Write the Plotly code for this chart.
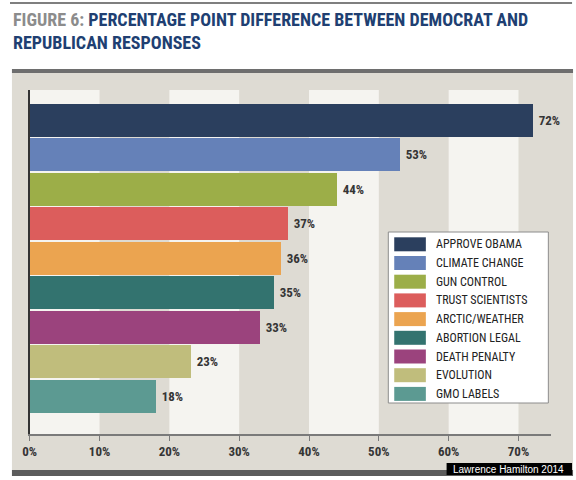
import plotly.graph_objects as go

# data
categories = ['APPROVE OBAMA', 'CLIMATE CHANGE', 'GUN CONTROL', 'TRUST SCIENTISTS',
              'ARCTIC/WEATHER', 'ABORTION LEGAL', 'DEATH PENALTY', 'EVOLUTION', 'GMO LABELS']
values = [72, 53, 44, 37, 36, 35, 33, 23, 18]
colors = ['#2b3f5e', '#6581b8', '#9cae48', '#dc5d5c', '#eba450',
          '#33736f', '#9b437d', '#c0bd7c', '#5c9a92']
tick_vals = [0, 10, 20, 30, 40, 50, 60, 70]
tick_text = ['0%', '10%', '20%', '30%', '40%', '50%', '60%', '70%']

W, H = 576, 480
FONT = 'Roboto Condensed, Liberation Sans Narrow, sans-serif'
BEIGE = '#dedbd3'
LIGHT = '#f5f4f0'


def px(x):
    return x / W


def py(y):
    return 1 - y / H


fig = go.Figure()
fig.add_trace(go.Bar(
    x=values, y=list(range(len(categories))), orientation='h',
    marker=dict(color=colors, line=dict(width=0)), width=0.96,
    text=[f'<b>\u00a0{v}%</b>' for v in values], textposition='outside',
    textfont=dict(family=FONT, size=13, color='#353535'),
    cliponaxis=False, showlegend=False, hoverinfo='skip'))

shapes = []
# panel background and strips
shapes.append(dict(type='rect', xref='paper', yref='paper', x0=px(5), x1=px(573),
                   y0=py(470), y1=py(73), fillcolor=BEIGE, line_width=0, layer='below'))
shapes.append(dict(type='rect', xref='paper', yref='paper', x0=px(5), x1=px(573),
                   y0=py(73), y1=py(69), fillcolor='#6e6e6e', line_width=0, layer='below'))
shapes.append(dict(type='rect', xref='paper', yref='paper', x0=px(5), x1=px(573),
                   y0=py(476), y1=py(470), fillcolor='#5c5c5c', line_width=0, layer='below'))
# top rule
shapes.append(dict(type='line', xref='paper', yref='paper', x0=px(3), x1=px(572),
                   y0=py(3), y1=py(3), line=dict(color='#555555', width=1.5)))
# light column stripes
for s in tick_vals[::2]:
    shapes.append(dict(type='rect', xref='x', yref='paper', x0=s, x1=s + 10,
                       y0=py(434), y1=py(90), fillcolor=LIGHT, line_width=0, layer='below'))

annotations = []
annotations.append(dict(
    xref='paper', yref='paper', x=px(4), y=py(7), xanchor='left', yanchor='top',
    align='left', showarrow=False,
    text="<b><span style='color:#8c8c8c'>FIGURE 6:</span> PERCENTAGE POINT DIFFERENCE BETWEEN DEMOCRAT AND"
         "<br>REPUBLICAN RESPONSES</b>",
    font=dict(family=FONT, size=18, color='#203f72')))

# legend box
shapes.append(dict(type='rect', xref='paper', yref='paper', x0=px(386), x1=px(548),
                   y0=py(403), y1=py(232), fillcolor='white',
                   line=dict(color='#8c8c8c', width=1)))
for i, (name, c) in enumerate(zip(categories, colors)):
    yc = 244.3 + i * 18.7
    shapes.append(dict(type='rect', xref='paper', yref='paper', x0=px(392), x1=px(424),
                       y0=py(yc + 7), y1=py(yc - 7), fillcolor=c, line_width=0))
    annotations.append(dict(xref='paper', yref='paper', x=px(432), y=py(yc),
                            xanchor='left', yanchor='middle', showarrow=False, text=name,
                            font=dict(family=FONT, size=12, color='#222222')))

# credit
shapes.append(dict(type='rect', xref='paper', yref='paper', x0=px(445), x1=px(572),
                   y0=py(475), y1=py(463), fillcolor='black', line_width=0))
annotations.append(dict(xref='paper', yref='paper', x=px(508), y=py(469), xanchor='center',
                        yanchor='middle', showarrow=False, text='Lawrence Hamilton 2014',
                        font=dict(family='Liberation Sans, Arial, sans-serif', size=10,
                                  color='white')))

fig.update_layout(
    width=W, height=H, margin=dict(l=0, r=0, t=0, b=0),
    paper_bgcolor='white', plot_bgcolor='rgba(0,0,0,0)',
    shapes=shapes, annotations=annotations, bargap=0,
    xaxis=dict(domain=[px(23), px(551)], range=[0, 74.7], tickvals=tick_vals,
               ticktext=[f'<b>{t}</b>' for t in tick_text],
               showgrid=False, zeroline=False, showline=True, linecolor='#7a7a7a',
               linewidth=1.5, ticks='outside', ticklen=5, tickcolor='#7a7a7a',
               tickfont=dict(family=FONT, size=13, color='#353535'), fixedrange=True),
    yaxis=dict(domain=[py(434), py(90)], range=[9.1, -0.877], showticklabels=False,
               showgrid=False, zeroline=False, showline=True, linecolor='#333333',
               linewidth=1.5, ticks='', fixedrange=True),
)

fig.write_html('out.html', post_script="document.body.style.margin='0';",
               config={'displayModeBar': False})
